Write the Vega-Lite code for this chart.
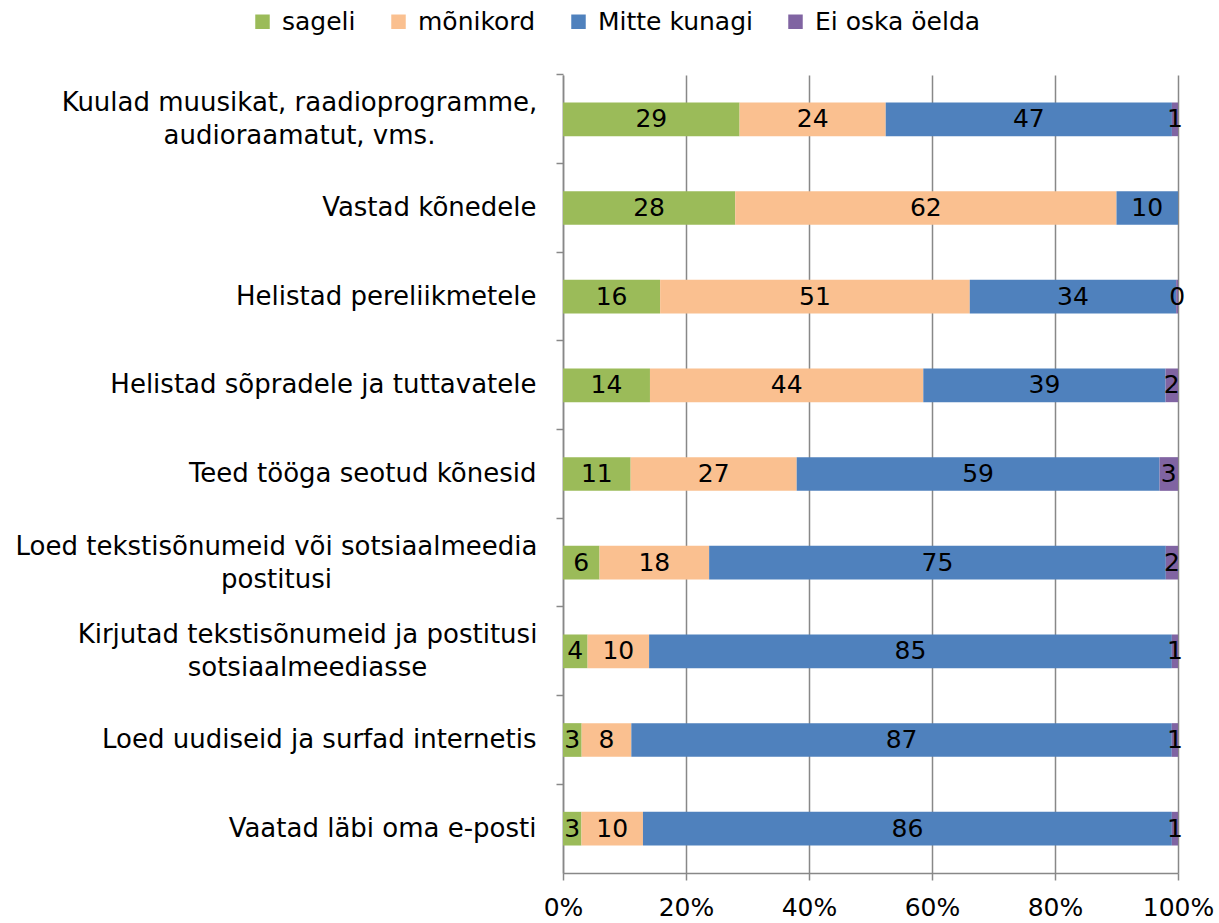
{
  "$schema": "https://vega.github.io/schema/vega-lite/v6.json",
  "width": 615,
  "height": 798,
  "autosize": {"type": "none"},
  "padding": {"left": 563, "top": 75, "right": 41, "bottom": 50},
  "config": {
    "view": {"stroke": null},
    "font": "DejaVu Sans",
    "legend": {
      "orient": "none",
      "direction": "horizontal",
      "legendX": -313,
      "legendY": -66,
      "symbolType": "square",
      "symbolSize": 210,
      "symbolStrokeWidth": 0,
      "labelFontSize": 25,
      "labelColor": "black",
      "labelLimit": 400,
      "columnPadding": 30,
      "labelOffset": 7,
      "title": null
    }
  },
  "data": {
    "values": [
      {"cat": "Kuulad muusikat, raadioprogramme,|audioraamatut, vms.", "s": "sageli", "v": 29},
      {"cat": "Kuulad muusikat, raadioprogramme,|audioraamatut, vms.", "s": "mõnikord", "v": 24},
      {"cat": "Kuulad muusikat, raadioprogramme,|audioraamatut, vms.", "s": "Mitte kunagi", "v": 47},
      {"cat": "Kuulad muusikat, raadioprogramme,|audioraamatut, vms.", "s": "Ei oska öelda", "v": 1},
      {"cat": "Vastad kõnedele", "s": "sageli", "v": 28},
      {"cat": "Vastad kõnedele", "s": "mõnikord", "v": 62},
      {"cat": "Vastad kõnedele", "s": "Mitte kunagi", "v": 10},
      {"cat": "Helistad pereliikmetele", "s": "sageli", "v": 16},
      {"cat": "Helistad pereliikmetele", "s": "mõnikord", "v": 51},
      {"cat": "Helistad pereliikmetele", "s": "Mitte kunagi", "v": 34},
      {"cat": "Helistad pereliikmetele", "s": "Ei oska öelda", "v": 0.3},
      {"cat": "Helistad sõpradele ja tuttavatele", "s": "sageli", "v": 14},
      {"cat": "Helistad sõpradele ja tuttavatele", "s": "mõnikord", "v": 44},
      {"cat": "Helistad sõpradele ja tuttavatele", "s": "Mitte kunagi", "v": 39},
      {"cat": "Helistad sõpradele ja tuttavatele", "s": "Ei oska öelda", "v": 2},
      {"cat": "Teed tööga seotud kõnesid", "s": "sageli", "v": 11},
      {"cat": "Teed tööga seotud kõnesid", "s": "mõnikord", "v": 27},
      {"cat": "Teed tööga seotud kõnesid", "s": "Mitte kunagi", "v": 59},
      {"cat": "Teed tööga seotud kõnesid", "s": "Ei oska öelda", "v": 3},
      {"cat": "Loed tekstisõnumeid või sotsiaalmeedia|postitusi", "s": "sageli", "v": 6},
      {"cat": "Loed tekstisõnumeid või sotsiaalmeedia|postitusi", "s": "mõnikord", "v": 18},
      {"cat": "Loed tekstisõnumeid või sotsiaalmeedia|postitusi", "s": "Mitte kunagi", "v": 75},
      {"cat": "Loed tekstisõnumeid või sotsiaalmeedia|postitusi", "s": "Ei oska öelda", "v": 2},
      {"cat": "Kirjutad tekstisõnumeid ja postitusi|sotsiaalmeediasse", "s": "sageli", "v": 4},
      {"cat": "Kirjutad tekstisõnumeid ja postitusi|sotsiaalmeediasse", "s": "mõnikord", "v": 10},
      {"cat": "Kirjutad tekstisõnumeid ja postitusi|sotsiaalmeediasse", "s": "Mitte kunagi", "v": 85},
      {"cat": "Kirjutad tekstisõnumeid ja postitusi|sotsiaalmeediasse", "s": "Ei oska öelda", "v": 1},
      {"cat": "Loed uudiseid ja surfad internetis", "s": "sageli", "v": 3},
      {"cat": "Loed uudiseid ja surfad internetis", "s": "mõnikord", "v": 8},
      {"cat": "Loed uudiseid ja surfad internetis", "s": "Mitte kunagi", "v": 87},
      {"cat": "Loed uudiseid ja surfad internetis", "s": "Ei oska öelda", "v": 1},
      {"cat": "Vaatad läbi oma e-posti", "s": "sageli", "v": 3},
      {"cat": "Vaatad läbi oma e-posti", "s": "mõnikord", "v": 10},
      {"cat": "Vaatad läbi oma e-posti", "s": "Mitte kunagi", "v": 86},
      {"cat": "Vaatad läbi oma e-posti", "s": "Ei oska öelda", "v": 1}
    ]
  },
  "transform": [
    {"stack": "v", "groupby": ["cat"], "sort": [{"field": "s", "order": "descending"}], "offset": "normalize", "as": ["x0", "x1"]},
    {"calculate": "(datum.x0 + datum.x1) / 2", "as": "xm"}
  ],
  "encoding": {
    "y": {
      "field": "cat",
      "type": "nominal",
      "sort": [
        "Kuulad muusikat, raadioprogramme,|audioraamatut, vms.",
        "Vastad kõnedele",
        "Helistad pereliikmetele",
        "Helistad sõpradele ja tuttavatele",
        "Teed tööga seotud kõnesid",
        "Loed tekstisõnumeid või sotsiaalmeedia|postitusi",
        "Kirjutad tekstisõnumeid ja postitusi|sotsiaalmeediasse",
        "Loed uudiseid ja surfad internetis",
        "Vaatad läbi oma e-posti"
      ],
      "scale": {"paddingInner": 0.62, "paddingOuter": 0.31},
      "axis": {
        "title": null,
        "bandPosition": -0.8163,
        "tickSize": 7,
        "tickColor": "#888888",
        "tickWidth": 1.5,
        "domainColor": "#888888",
        "domainWidth": 1.5,
        "labelFontSize": 26,
        "labelColor": "black",
        "labelLimit": 700,
        "labelLineHeight": 33,
        "labelOffset": {"condition": {"test": "indexof(datum.value, '|') >= 0", "value": -16}, "value": 0},
        "labelAlign": {"condition": {"test": "indexof(datum.value, '|') >= 0", "value": "center"}, "value": "right"},
        "labelPadding": {"expr": "indexof(datum.value, 'Kuulad') == 0 ? 257 : indexof(datum.value, 'Loed teksti') == 0 ? 280 : indexof(datum.value, 'Kirjutad') == 0 ? 249 : 20"},
        "labelExpr": "split(datum.label, '|')"
      }
    }
  },
  "layer": [
    {
      "mark": {"type": "bar"},
      "encoding": {
        "x": {
          "field": "x0",
          "type": "quantitative",
          "scale": {"domain": [0, 1]},
          "axis": {
            "title": null,
            "format": "%",
            "values": [0, 0.2, 0.4, 0.6, 0.8, 1],
            "labelFlush": false,
            "grid": true,
            "gridColor": "#888888",
            "gridWidth": 1.5,
            "tickColor": "#888888",
            "tickWidth": 1.5,
            "tickSize": 7,
            "domainColor": "#888888",
            "domainWidth": 1.5,
            "labelFontSize": 25,
            "labelColor": "black",
            "labelPadding": 15
          }
        },
        "x2": {"field": "x1"},
        "color": {
          "field": "s",
          "type": "nominal",
          "scale": {
            "domain": ["sageli", "mõnikord", "Mitte kunagi", "Ei oska öelda"],
            "range": ["#9BBB59", "#FAC090", "#4F81BD", "#8064A2"]
          },
          "legend": {}
        }
      }
    },
    {
      "mark": {"type": "text", "fontSize": 25, "color": "black"},
      "encoding": {
        "x": {"field": "xm", "type": "quantitative"},
        "text": {"field": "v", "type": "quantitative", "format": ".0f"}
      }
    }
  ]
}
